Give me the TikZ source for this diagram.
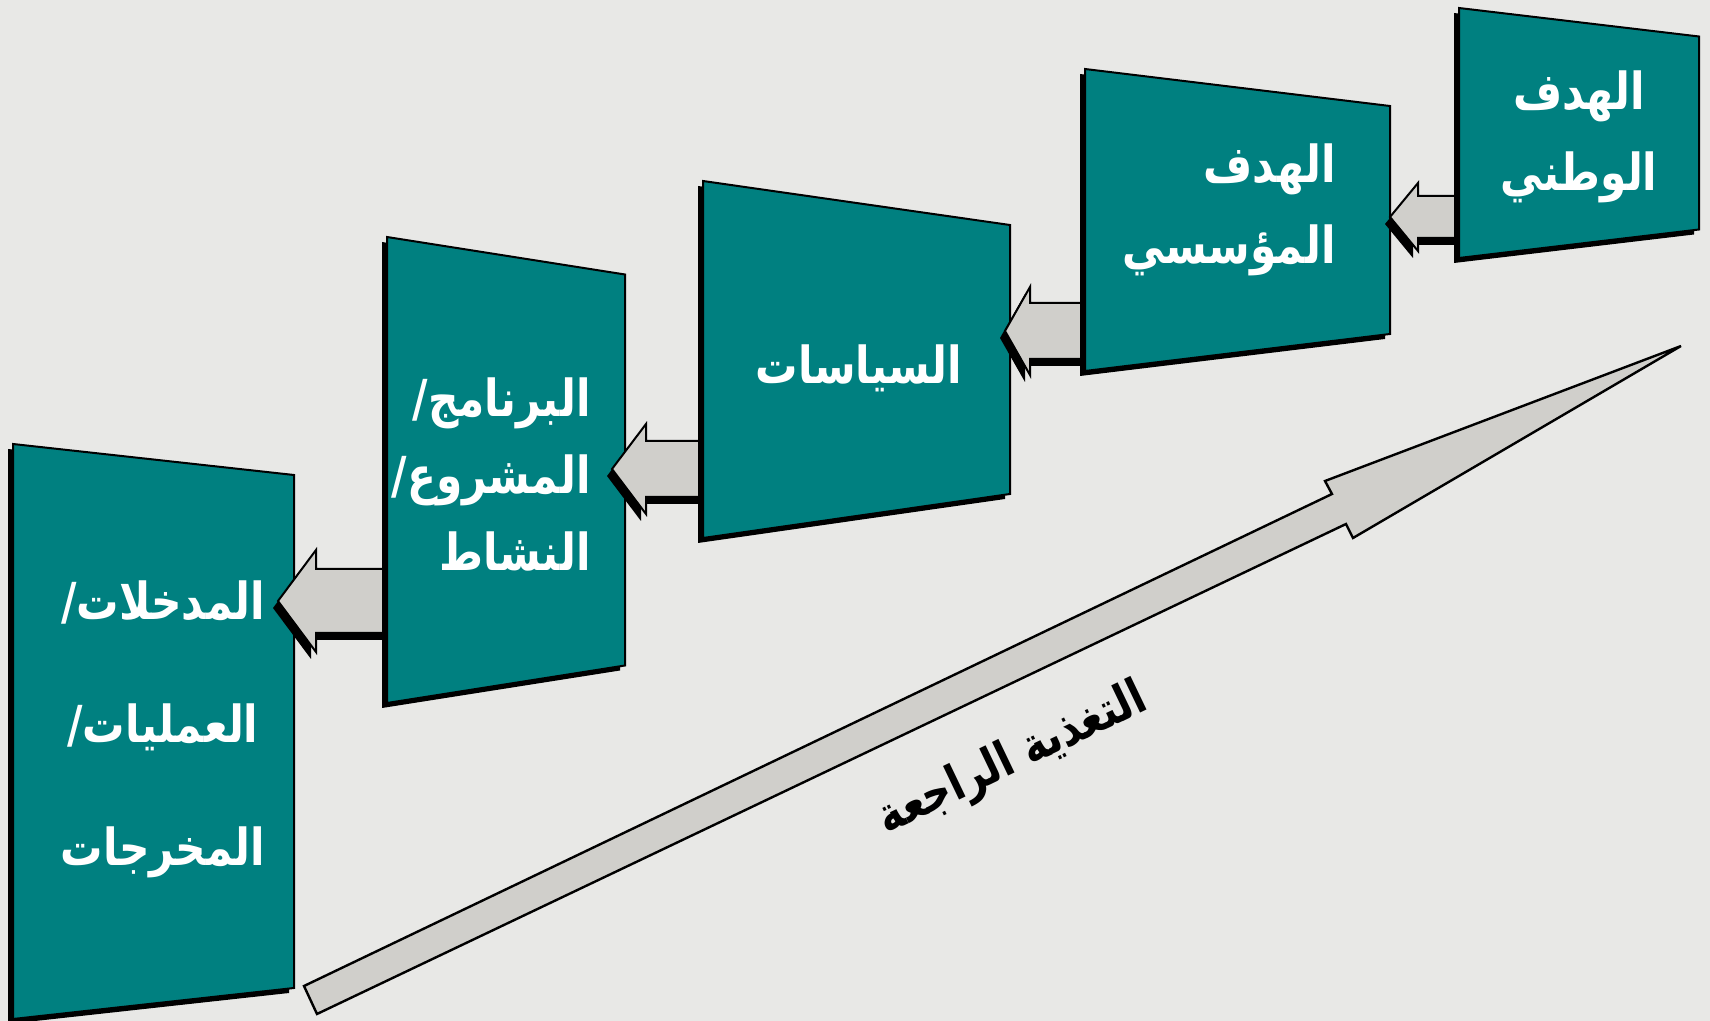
\documentclass[tikz,border=0pt]{standalone}
\usepackage{fontspec}
\usetikzlibrary{calc}
\newfontfamily\arabicfont[Script=Arabic,FakeStretch=0.83]{DejaVu Sans}
\TeXXeTstate=1
\definecolor{fondo}{HTML}{E8E8E6}
\definecolor{verde}{HTML}{008080}
\definecolor{gris}{HTML}{D0CFCB}
\newcommand{\ar}[1]{\beginR #1\endR}
% caja: nombre, x izq, x der, y centro, semialto izq, semialto der
\newcommand{\caja}[6]{%
  \fill[black,transform canvas={xshift=-2.5pt,yshift=-2.5pt}] (#2,#4-#5) -- (#3,#4-#6) -- (#3,#4+#6) -- (#2,#4+#5) -- cycle;
  \draw[cajaverde] (#2,#4-#5) coordinate (#1-nw) -- (#3,#4-#6) coordinate (#1-ne)
    -- (#3,#4+#6) coordinate (#1-se) -- (#2,#4+#5) coordinate (#1-sw) -- cycle;}
% flecha: punta, cola, semialto cuerpo, semialto punta, largo punta
\newcommand{\flecha}[5]{%
  \fill[black,transform canvas={xshift=-2.5pt,yshift=-3.5pt}] (#1) -- ($(#1)+(#5,-#4)$) -- ($(#1)+(#5,-#3)$)
    -- ($(#2)+(0,-#3)$) -- ($(#2)+(0,#3)$) -- ($(#1)+(#5,#3)$) -- ($(#1)+(#5,#4)$) -- cycle;
  \draw[flechagris] (#1) -- ($(#1)+(#5,-#4)$) -- ($(#1)+(#5,-#3)$)
    -- ($(#2)+(0,-#3)$) -- ($(#2)+(0,#3)$) -- ($(#1)+(#5,#3)$) -- ($(#1)+(#5,#4)$) -- cycle;}
\tikzset{
  cajaverde/.style={fill=verde,draw=black,line width=1pt},
  flechagris/.style={fill=gris,draw=black,line width=1pt},
  texto/.style={text=white,inner sep=0pt,font=\arabicfont\bfseries\fontsize{25.5}{40.5}\selectfont}
}
\begin{document}
\begin{tikzpicture}[x=0.5pt,y=-0.5pt]
\useasboundingbox (0,0) rectangle (1710,1021);
\fill[fondo] (0,0) rectangle (1710,1021); % fondo
% flecha grande de retroalimentacion
\draw[flechagris,line width=1.2pt] (304,986) coordinate (r1) -- (1332,494) -- (1325,481)
  -- (1681,346) coordinate (rp) -- (1353,538) -- (1346,524) -- (317,1014) -- cycle;
\node[rotate=25.6,inner sep=0pt,font=\arabicfont\bfseries\fontsize{24.5}{30}\selectfont] (fb) at (1013,760) {\ar{التغذية الراجعة}};
% cajas y flechas, de izquierda a derecha
\caja{b5}{13}{294}{731.5}{287.5}{256.5}
\node[texto,align=center,font=\arabicfont\bfseries\fontsize{25.5}{61.5}\selectfont] (t5) at (163,729) {\ar{المدخلات/}\\\ar{العمليات/}\\\ar{المخرجات}};
\coordinate (pD) at (278,601); \coordinate (cD) at (392,601);
\flecha{pD}{cD}{32}{51}{38}
\caja{b4}{387}{625}{470}{233}{195.5}
\node[texto,align=right,anchor=east,font=\arabicfont\bfseries\fontsize{25.5}{38.5}\selectfont] (t4) at (591,474) {\ar{البرنامج/}\\\ar{المشروع/}\\\ar{النشاط}};
\coordinate (pC) at (612,469); \coordinate (cC) at (708,469);
\flecha{pC}{cC}{28}{45}{34}
\caja{b3}{703}{1010}{359.5}{178.5}{134.5}
\node[texto] (t3) at (859,368) {\ar{السياسات}};
\coordinate (pB) at (1005,331); \coordinate (cB) at (1090,331);
\flecha{pB}{cB}{28}{44}{25}
\caja{b2}{1085}{1390}{220}{151}{114}
\node[texto,align=right,anchor=east] (t2) at (1336,210) {\ar{الهدف}\\\ar{المؤسسي}};
\coordinate (pA) at (1390,217); \coordinate (cA) at (1465,217);
\flecha{pA}{cA}{21}{34}{28}
\caja{b1}{1459}{1699}{133}{125}{96.5}
\node[texto,align=center] (t1) at (1579,137) {\ar{الهدف}\\\ar{الوطني}};
\end{tikzpicture}
\end{document}
